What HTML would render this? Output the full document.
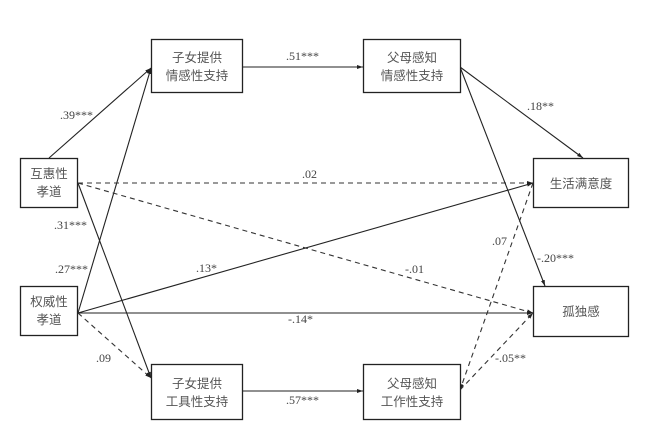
<!DOCTYPE html>
<html><head><meta charset="utf-8"><style>
html,body{margin:0;padding:0;background:#fff;}
svg{display:block;}
.box{fill:#fff;stroke:#222;stroke-width:1.3;}
.t{font-family:"Liberation Sans","Noto Sans CJK SC",sans-serif;font-size:12.5px;fill:#555;text-anchor:middle;}
.n{font-family:"Liberation Serif",serif;font-size:12px;fill:#444;}
.s{stroke:#222;stroke-width:1.1;fill:none;}
.d{stroke:#333;stroke-width:1.1;fill:none;stroke-dasharray:5,4;}
</style></head><body>
<svg width="655" height="437" viewBox="0 0 655 437" xmlns="http://www.w3.org/2000/svg">
<defs><marker id="a" markerWidth="6" markerHeight="4" refX="6" refY="2" orient="auto" markerUnits="userSpaceOnUse"><path d="M0,0 L6,2 L0,4 z" fill="#222"/></marker></defs>
<line class="s" x1="49" y1="158" x2="151" y2="68" marker-end="url(#a)"/>
<line class="s" x1="78" y1="313" x2="151" y2="68" marker-end="url(#a)"/>
<line class="s" x1="78" y1="183" x2="151" y2="378" marker-end="url(#a)"/>
<line class="d" x1="78" y1="313" x2="151" y2="378" marker-end="url(#a)"/>
<line class="s" x1="243" y1="67" x2="363" y2="67" marker-end="url(#a)"/>
<line class="s" x1="243" y1="391" x2="363" y2="391" marker-end="url(#a)"/>
<line class="d" x1="78" y1="183" x2="533" y2="183" marker-end="url(#a)"/>
<line class="d" x1="78" y1="183" x2="533" y2="313" marker-end="url(#a)"/>
<line class="s" x1="78" y1="313" x2="533" y2="183" marker-end="url(#a)"/>
<line class="s" x1="78" y1="313" x2="533" y2="313" marker-end="url(#a)"/>
<line class="s" x1="460" y1="67" x2="583" y2="158" marker-end="url(#a)"/>
<line class="s" x1="460" y1="67" x2="545" y2="286" marker-end="url(#a)"/>
<line class="d" x1="533" y1="183" x2="460" y2="390" marker-end="url(#a)"/>
<line class="d" x1="460" y1="390" x2="533" y2="313" marker-end="url(#a)"/>
<rect class="box" x="20.5" y="158.5" width="57" height="49"/>
<text class="t" x="49" y="178">互惠性</text><text class="t" x="49" y="196">孝道</text>
<rect class="box" x="20.5" y="286.5" width="57" height="49"/>
<text class="t" x="49" y="306">权威性</text><text class="t" x="49" y="324">孝道</text>
<rect class="box" x="151.5" y="39.5" width="91" height="53"/>
<text class="t" x="197" y="62">子女提供</text><text class="t" x="197" y="80">情感性支持</text>
<rect class="box" x="151.5" y="364.5" width="91" height="55"/>
<text class="t" x="197" y="388">子女提供</text><text class="t" x="197" y="406">工具性支持</text>
<rect class="box" x="363.5" y="39.5" width="97" height="53"/>
<text class="t" x="412" y="62">父母感知</text><text class="t" x="412" y="80">情感性支持</text>
<rect class="box" x="363.5" y="364.5" width="97" height="55"/>
<text class="t" x="412" y="388">父母感知</text><text class="t" x="412" y="406">工作性支持</text>
<rect class="box" x="533.5" y="158.5" width="95" height="49"/>
<text class="t" x="581" y="188">生活满意度</text>
<rect class="box" x="533.5" y="286.5" width="95" height="50"/>
<text class="t" x="581" y="316">孤独感</text>
<text class="n" x="60" y="119">.39***</text>
<text class="n" x="54" y="229">.31***</text>
<text class="n" x="55" y="273">.27***</text>
<text class="n" x="96" y="362">.09</text>
<text class="n" x="286" y="60">.51***</text>
<text class="n" x="286" y="404">.57***</text>
<text class="n" x="302" y="178">.02</text>
<text class="n" x="196" y="272">.13*</text>
<text class="n" x="405" y="273">-.01</text>
<text class="n" x="288" y="323">-.14*</text>
<text class="n" x="527" y="110">.18**</text>
<text class="n" x="492" y="245">.07</text>
<text class="n" x="537" y="262">-.20***</text>
<text class="n" x="495" y="362">-.05**</text>
</svg>
</body></html>
